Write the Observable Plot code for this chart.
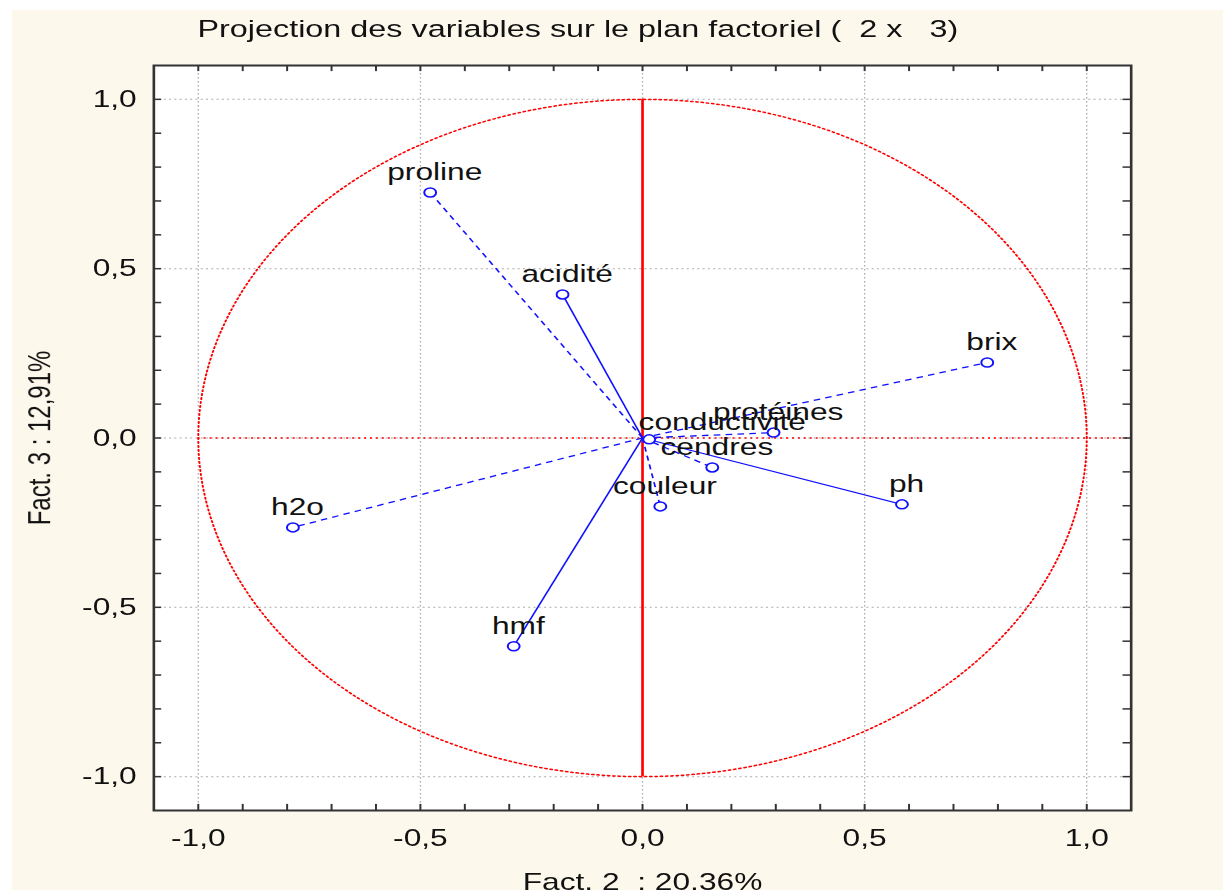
<!DOCTYPE html>
<html><head><meta charset="utf-8">
<script src="https://cdn.jsdelivr.net/npm/d3@7"></script>
<script src="https://cdn.jsdelivr.net/npm/@observablehq/plot@0.6"></script>
<style>
html,body{margin:0;padding:0;background:#fff;overflow:hidden;}
#bg{position:absolute;left:12px;top:10px;width:1211px;height:880px;background:#fdf8ec;}
#wrap{position:absolute;left:0;top:0;width:926px;height:890px;transform:scaleX(1.3207);transform-origin:0 0;}
#title{position:absolute;left:0;width:875px;top:15px;text-align:center;white-space:pre;font:24.5px "Liberation Sans",Arial,sans-serif;color:#111;}
</style></head><body>
<div id="bg"></div>
<div id="wrap"><div id="chart"></div><div id="title">Projection des variables sur le plan factoriel (  2 x   3)</div></div>
<script>
// Variables and their coordinates on factors 2 and 3
const variables = ["proline","acidité","brix","protéines","conductivité","cendres","couleur","ph","h2o","hmf"];
const fact2 = [-0.478,-0.180,0.776,0.295,0.015,0.157,0.040,0.584,-0.787,-0.290];
const fact3 = [0.725,0.424,0.223,0.016,-0.004,-0.087,-0.202,-0.196,-0.264,-0.615];
const solidVars = ["acidité","ph","hmf"];
const majorTicks = [-1,-0.5,0,0.5,1];
const minorTicks = d3.range(-10,11).map(i => i/10);
const xLabel = "Fact. 2  : 20,36%";
const yLabel = "Fact. 3 : 12,91%";

const data = variables.map((v,i) => ({name: v, x: fact2[i], y: fact3[i], solid: solidVars.includes(v)}));
const fmt = d => d.toFixed(1).replace(".", ",");
const circle = d3.range(0, 361, 1).map(a => [Math.cos(a*Math.PI/180), Math.sin(a*Math.PI/180)]);
const tk = 0.018;
const lo = -1.1, hi = 1.1;

const chart = Plot.plot({
  width: 926, height: 890,
  marginLeft: 116, marginRight: 70, marginTop: 65, marginBottom: 80,
  x: {domain: [lo, hi]},
  y: {domain: [lo, hi]},
  style: {fontFamily: "Liberation Sans, Arial, sans-serif", fontSize: "24px", color: "#111", background: "transparent", overflow: "visible"},
  marks: [
    Plot.frame({fill: "white"}),
    Plot.ruleX(majorTicks, {stroke: "#aaa", strokeDasharray: "1.5,2.5", strokeWidth: 1}),
    Plot.ruleY(majorTicks, {stroke: "#aaa", strokeDasharray: "1.5,2.5", strokeWidth: 1}),
    Plot.ruleY([0], {x1: -1, x2: hi, stroke: "red", strokeDasharray: "1.5,3", strokeWidth: 1.5}),
    Plot.line(circle, {x: d => d[0], y: d => d[1], stroke: "red", strokeDasharray: "1.5,2.5", strokeWidth: 1.5}),
    Plot.ruleX([0], {y1: -1, y2: 1, stroke: "red", strokeWidth: 2}),
    // inward ticks on all four sides
    Plot.ruleX(minorTicks, {y1: lo, y2: lo + tk, stroke: "#333", strokeWidth: 1.5}),
    Plot.ruleX(minorTicks, {y1: hi, y2: hi - tk, stroke: "#333", strokeWidth: 1.5}),
    Plot.ruleY(minorTicks, {x1: lo, x2: lo + tk, stroke: "#333", strokeWidth: 1.5}),
    Plot.ruleY(minorTicks, {x1: hi, x2: hi - tk, stroke: "#333", strokeWidth: 1.5}),
    Plot.link(data.filter(d => !d.solid), {x1: 0, y1: 0, x2: "x", y2: "y", stroke: "#1010ff", strokeWidth: 1.3, strokeDasharray: "5,4"}),
    Plot.link(data.filter(d => d.solid), {x1: 0, y1: 0, x2: "x", y2: "y", stroke: "#1010ff", strokeWidth: 1.3}),
    Plot.dot(data, {x: "x", y: "y", r: 4.5, stroke: "#1010ff", strokeWidth: 1.5, fill: "white"}),
    Plot.text(data.filter(d => d.name !== "conductivité"), {x: "x", y: "y", text: "name", dx: 3.5, dy: -20, fontSize: 24, fill: "#111"}),
    Plot.text(data.filter(d => d.name === "conductivité"), {x: "x", y: "y", text: "name", dx: -8, dy: -17, textAnchor: "start", fontSize: 24, fill: "#111"}),
    Plot.frame({stroke: "#333", strokeWidth: 2}),
    Plot.axisX(majorTicks, {tickSize: 0, tickPadding: 18, tickFormat: fmt, label: null, fontSize: 24}),
    Plot.axisY(majorTicks, {tickSize: 0, tickPadding: 13, tickFormat: fmt, label: null, fontSize: 24}),
    Plot.text([xLabel], {text: d => d, frameAnchor: "bottom", dy: 62, lineAnchor: "top", textAnchor: "middle", fontSize: 24, fill: "#111"}),
    Plot.text([yLabel], {text: d => d, frameAnchor: "left", dx: -86, rotate: -90, textAnchor: "middle", lineAnchor: "middle", fontSize: 24, fill: "#111"})
  ]
});
document.getElementById("chart").appendChild(chart);
</script>
</body></html>
